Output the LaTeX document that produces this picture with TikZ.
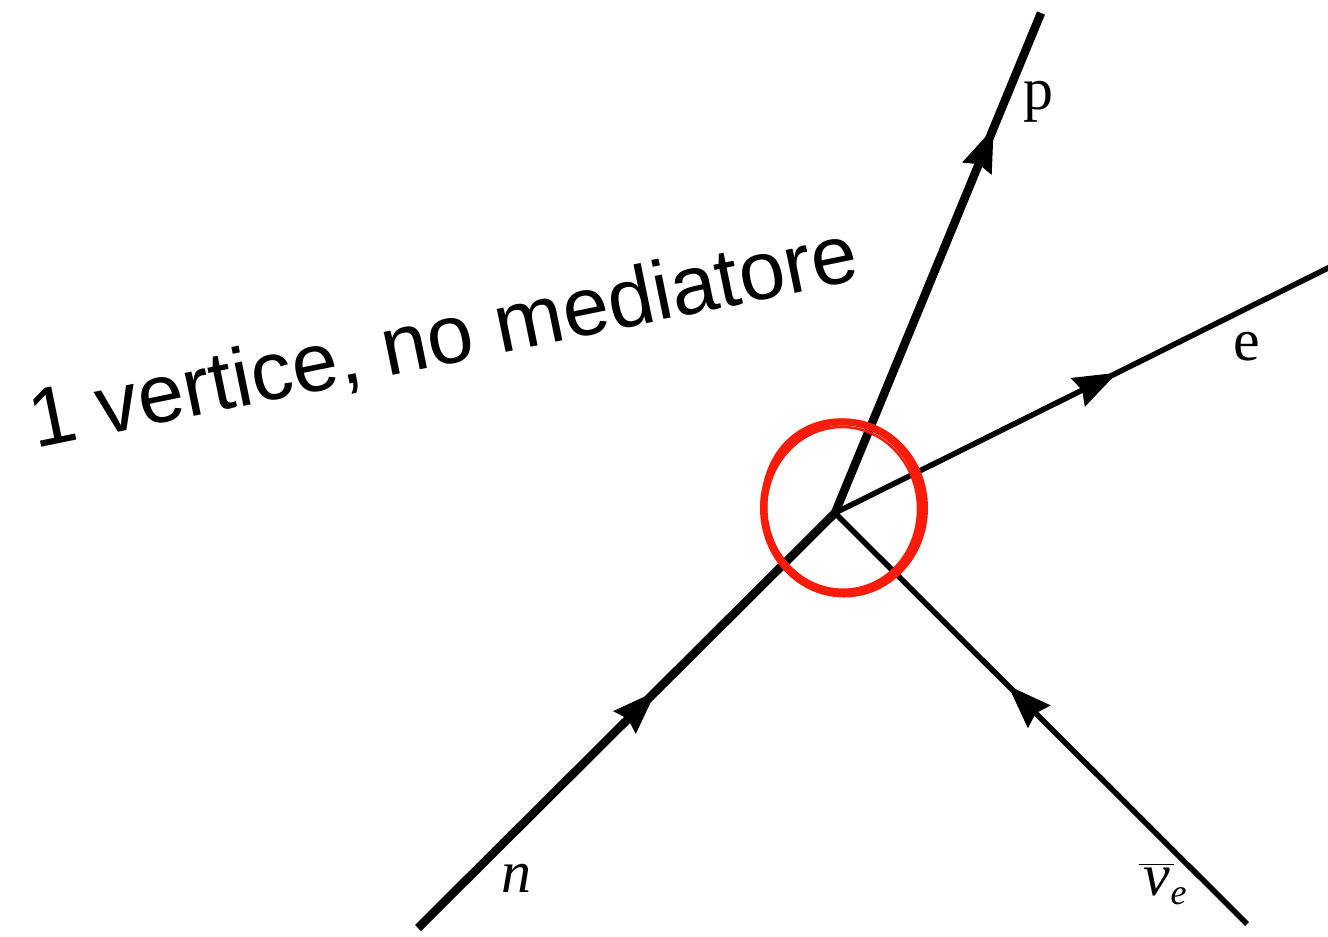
\documentclass[tikz,border=0pt]{standalone}
\usepackage{amsmath}
\usepackage{fontspec}
\setmainfont{Liberation Serif}
\newfontfamily\labelsans{Liberation Sans}
\usetikzlibrary{arrows.meta,decorations.markings}
\definecolor{brushred}{RGB}{250,28,8}
\begin{document}
\begin{tikzpicture}[x=1pt,y=-1pt,
  thickline/.style={line width=8.5pt},
  thinline/.style={line width=5.5pt},
  midarrow/.style={postaction={decorate},
    decoration={markings, mark=at position #1 with {\arrow{Stealth[length=44pt,width=32pt,inset=5pt,line width=1pt]}}}},
  partlabel/.style={font=\fontsize{60}{60}\selectfont, inner sep=0pt},
  brush/.style={draw=brushred, line cap=round}]
\useasboundingbox (0,0) rectangle (1328,937);
% vertex and line ends
\coordinate (V) at (835,513);
\coordinate (N) at (418,928);
\coordinate (P) at (1041,13);
\coordinate (E) at (1330,267);
\coordinate (NU) at (1247,924);
% lines
\draw[thickline, midarrow=0.57] (N) -- (V);
\draw[thickline, midarrow=0.77] (V) -- (P);
\draw[thinline, midarrow=0.57] (V) -- (E);
\draw[thinline, midarrow=0.58] (NU) -- (V);
% labels
\node[partlabel] (lp) at (1038,102) {p};
\node[partlabel] (le) at (1247,347) {e};
\node[partlabel] (ln) at (516,878) {\itshape n};
\node[partlabel] (lnu) at (1163,884) {$\overline{\hbox{\kern5pt\itshape ν\kern3pt}}\kern-3pt_{\raisebox{-6pt}{\fontsize{36}{36}\selectfont\itshape e}}$};
% hand-drawn red circle
\coordinate (C) at (843,507);
\draw[brush, line width=7pt] (C) ellipse [x radius=79, y radius=85];
\draw[brush, line width=3pt] ([shift={(1,1)}]C) ellipse [x radius=82.5, y radius=88];
\draw[brush, line width=2.5pt] ([shift={(-1,2)}]C) ellipse [x radius=76, y radius=82];
\draw[brush, line width=2pt, rotate around={20:(C)}] ([shift={(1,-1)}]C) ellipse [x radius=80, y radius=87];
% caption
\node[rotate=11.6, anchor=base west, inner sep=0pt, font=\labelsans\fontsize{83}{83}\selectfont] (cap) at (35,449) {1 vertice, no mediatore};
\end{tikzpicture}
\end{document}
